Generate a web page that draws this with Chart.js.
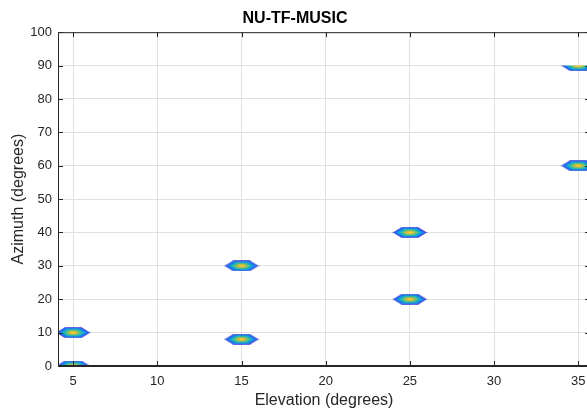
<!DOCTYPE html>
<html>
<head>
<meta charset="utf-8">
<script src="https://cdn.jsdelivr.net/npm/chart.js@4.4.1/dist/chart.umd.min.js"></script>
<style>
  html, body { margin: 0; padding: 0; background: #fff; overflow: hidden; width: 587px; height: 412px; }
  #wrap { width: 600px; height: 412px; }
</style>
</head>
<body>
<div id="wrap"><canvas id="chart" width="600" height="412"></canvas></div>
<script>
// peak locations of the spectrum (elevation, azimuth) in degrees
const elevation = [5, 5, 15, 15, 25, 25, 35, 35];
const azimuth = [0, 10, 8, 30, 20, 40, 60, 90];
const xTicks = [5, 10, 15, 20, 25, 30, 35];
const yTicks = [0, 10, 20, 30, 40, 50, 60, 70, 80, 90, 100];
const azimuthGridMax = 90; // the spectrum was only computed up to 90 deg

const FONT = '"Liberation Sans", Arial, Helvetica, sans-serif';
const INK = '#262626';

// rough parula colormap
const parulaStops = [
    [0.00, [62, 38, 168]],
    [0.14, [45, 80, 235]],
    [0.28, [25, 125, 235]],
    [0.42, [15, 170, 210]],
    [0.56, [50, 190, 160]],
    [0.70, [140, 192, 95]],
    [0.85, [235, 186, 55]],
    [1.00, [249, 240, 20]]
];

function parula(t) {
    t = Math.max(0, Math.min(1, t));
    for (let i = 1; i < parulaStops.length; i++) {
        const [t1, c1] = parulaStops[i];
        const [t0, c0] = parulaStops[i - 1];
        if (t <= t1) {
            const f = (t - t0) / (t1 - t0);
            return c0.map((v, k) => Math.round(v + (c1[k] - v) * f));
        }
    }
    return parulaStops[parulaStops.length - 1][1];
}

// one filled contour peak, drawn as an image point style
function makeBlob(w, h, peak) {
    const cv = document.createElement('canvas');
    cv.width = w;
    cv.height = h;
    const g = cv.getContext('2d');
    const img = g.createImageData(w, h);
    const a = w / 2, b = h / 2;
    for (let y = 0; y < h; y++) {
        for (let x = 0; x < w; x++) {
            const dx = Math.abs((x + 0.5 - a) / a);
            const dy = Math.abs((y + 0.5 - b) / b);
            const d = Math.max(dy, dx + 0.5 * dy);
            if (d >= 1) continue;
            const c = parula(peak * (1 - Math.pow(d, 1.2)));
            const alpha = Math.min(1, (1 - d) * b * 1.6);
            const p = (y * w + x) * 4;
            img.data[p] = c[0];
            img.data[p + 1] = c[1];
            img.data[p + 2] = c[2];
            img.data[p + 3] = Math.round(alpha * 255);
        }
    }
    g.putImageData(img, 0, 0);
    return cv;
}

const blob = makeBlob(36, 11, 0.95);

const clipAzimuth = {
    id: 'clipAzimuth',
    beforeDatasetDraw(chart) {
        const { ctx, chartArea: area, scales } = chart;
        const top = scales.y.getPixelForValue(azimuthGridMax);
        ctx.save();
        ctx.beginPath();
        ctx.rect(area.left, top, area.right - area.left, area.bottom - top);
        ctx.clip();
    },
    afterDatasetDraw(chart) {
        chart.ctx.restore();
    }
};

// matlab style box and inward ticks, drawn over the data
const axesBox = {
    id: 'axesBox',
    afterDatasetsDraw(chart) {
        const { ctx, chartArea: a, scales } = chart;
        const len = 5;
        ctx.save();
        ctx.strokeStyle = INK;
        ctx.lineWidth = 1;
        ctx.beginPath();
        ctx.rect(a.left + 0.5, a.top + 0.5, a.right - a.left - 1, a.bottom - a.top - 1);
        xTicks.forEach(v => {
            const x = Math.round(scales.x.getPixelForValue(v)) + 0.5;
            ctx.moveTo(x, a.bottom);
            ctx.lineTo(x, a.bottom - len);
            ctx.moveTo(x, a.top);
            ctx.lineTo(x, a.top + len);
        });
        yTicks.forEach(v => {
            const y = Math.round(scales.y.getPixelForValue(v)) + 0.5;
            ctx.moveTo(a.left, y);
            ctx.lineTo(a.left + len, y);
            ctx.moveTo(a.right, y);
            ctx.lineTo(a.right - len, y);
        });
        ctx.stroke();
        ctx.restore();
    }
};

new Chart(document.getElementById('chart'), {
    type: 'scatter',
    data: {
        datasets: [{
            data: elevation.map((e, i) => ({ x: e, y: azimuth[i] })),
            pointStyle: blob,
            pointRadius: 3,
            pointHoverRadius: 3
        }]
    },
    options: {
        responsive: false,
        animation: false,
        devicePixelRatio: 1,
        events: [],
        layout: { padding: { left: 0, right: 10, top: 0, bottom: 0 } },
        plugins: {
            legend: { display: false },
            tooltip: { enabled: false },
            title: {
                display: true,
                text: 'NU-TF-MUSIC',
                color: '#000',
                font: { family: FONT, size: 16, weight: 'bold', lineHeight: 1.2 },
                padding: { top: 9, bottom: 4 }
            }
        },
        scales: {
            x: {
                type: 'linear',
                min: 4.1,
                max: 35.7,
                afterBuildTicks: s => { s.ticks = xTicks.map(v => ({ value: v })); },
                afterFit: s => { s.height = 46; },
                grid: { color: '#e0e0e0', drawTicks: false },
                border: { color: INK },
                ticks: { color: INK, padding: 8, font: { family: FONT, size: 13 } },
                title: {
                    display: true,
                    text: 'Elevation (degrees)',
                    color: INK,
                    font: { family: FONT, size: 16 },
                    padding: { top: 0, bottom: 2 }
                }
            },
            y: {
                type: 'linear',
                min: 0,
                max: 100,
                afterBuildTicks: s => { s.ticks = yTicks.map(v => ({ value: v })); },
                afterFit: s => { s.width = 58; },
                grid: { color: '#e0e0e0', drawTicks: false },
                border: { color: INK },
                ticks: { color: INK, padding: 6, font: { family: FONT, size: 13 } },
                title: {
                    display: true,
                    text: 'Azimuth (degrees)',
                    color: INK,
                    font: { family: FONT, size: 16 },
                    padding: { top: 9, bottom: 0 }
                }
            }
        }
    },
    plugins: [clipAzimuth, axesBox]
});
</script>
</body>
</html>
